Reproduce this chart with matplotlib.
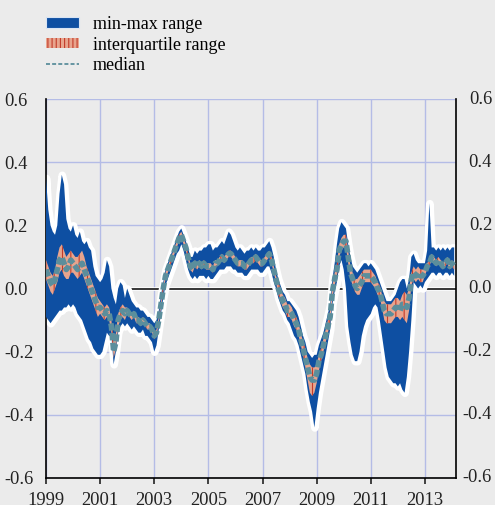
import numpy as np
import matplotlib
matplotlib.use("Agg")
import matplotlib.pyplot as plt
import matplotlib.transforms as mtransforms
from matplotlib.patches import Patch
from matplotlib.lines import Line2D

# ---- data: monthly readings, Jan 1999 .. Feb 2014 ----
start_year = 1999
med = [
    0.06, 0.04, 0.02, 0.01, 0.03, 0.06, 0.09, 0.10, 0.08, 0.06, 0.07, 0.09,        # 1999
    0.08, 0.07, 0.06, 0.07, 0.08, 0.06, 0.04, 0.02, 0.00, -0.02, -0.04, -0.06,     # 2000
    -0.06, -0.07, -0.08, -0.07, -0.08, -0.12, -0.20, -0.17, -0.10, -0.08, -0.07, -0.08,  # 2001
    -0.07, -0.08, -0.09, -0.08, -0.10, -0.10, -0.11, -0.10, -0.11, -0.12, -0.12, -0.13,  # 2002
    -0.15, -0.14, -0.10, -0.05, 0.00, 0.04, 0.06, 0.08, 0.10, 0.12, 0.14, 0.16,    # 2003
    0.17, 0.15, 0.13, 0.10, 0.07, 0.06, 0.08, 0.07, 0.08, 0.07, 0.08, 0.07,        # 2004
    0.07, 0.07, 0.06, 0.08, 0.08, 0.09, 0.10, 0.09, 0.10, 0.11, 0.11, 0.10,        # 2005
    0.09, 0.08, 0.08, 0.08, 0.07, 0.07, 0.08, 0.09, 0.09, 0.10, 0.09, 0.08,        # 2006
    0.08, 0.09, 0.10, 0.11, 0.09, 0.06, 0.03, 0.00, -0.02, -0.04, -0.05, -0.07,    # 2007
    -0.07, -0.08, -0.10, -0.11, -0.13, -0.16, -0.19, -0.22, -0.25, -0.28, -0.29, -0.29,  # 2008
    -0.27, -0.23, -0.21, -0.18, -0.15, -0.12, -0.09, -0.01, 0.03, 0.06, 0.12, 0.14,  # 2009
    0.15, 0.15, 0.10, 0.05, 0.03, 0.01, 0.00, 0.01, 0.02, 0.04, 0.04, 0.04,        # 2010
    0.04, 0.03, 0.02, 0.00, -0.01, -0.04, -0.07, -0.08, -0.08, -0.08, -0.07, -0.06,  # 2011
    -0.06, -0.07, -0.05, -0.05, -0.06, -0.03, 0.03, 0.05, 0.04, 0.05, 0.04, 0.04,  # 2012
    0.05, 0.07, 0.08, 0.10, 0.09, 0.08, 0.09, 0.08, 0.07, 0.08, 0.09, 0.07,        # 2013
    0.08, 0.07,                                                                    # 2014
]
q3 = [
    0.09, 0.07, 0.05, 0.04, 0.06, 0.10, 0.13, 0.14, 0.12, 0.10, 0.11, 0.12,
    0.11, 0.10, 0.10, 0.11, 0.12, 0.10, 0.07, 0.05, 0.03, 0.01, -0.01, -0.03,
    -0.04, -0.05, -0.06, -0.05, -0.06, -0.10, -0.17, -0.14, -0.08, -0.06, -0.05, -0.06,
    -0.06, -0.07, -0.08, -0.07, -0.09, -0.09, -0.10, -0.09, -0.10, -0.11, -0.11, -0.12,
    -0.14, -0.13, -0.09, -0.04, 0.01, 0.05, 0.07, 0.09, 0.11, 0.13, 0.15, 0.17,
    0.18, 0.16, 0.14, 0.11, 0.08, 0.07, 0.09, 0.08, 0.09, 0.08, 0.09, 0.08,
    0.08, 0.08, 0.07, 0.09, 0.09, 0.10, 0.11, 0.10, 0.11, 0.12, 0.12, 0.11,
    0.10, 0.09, 0.09, 0.09, 0.08, 0.08, 0.09, 0.10, 0.10, 0.11, 0.10, 0.09,
    0.09, 0.10, 0.11, 0.12, 0.10, 0.07, 0.04, 0.02, 0.00, -0.02, -0.03, -0.05,
    -0.05, -0.06, -0.08, -0.09, -0.11, -0.14, -0.17, -0.19, -0.22, -0.24, -0.25, -0.25,
    -0.24, -0.21, -0.19, -0.16, -0.13, -0.10, -0.07, 0.01, 0.05, 0.08, 0.14, 0.16,
    0.17, 0.17, 0.12, 0.07, 0.05, 0.03, 0.03, 0.04, 0.05, 0.06, 0.06, 0.06,
    0.06, 0.05, 0.04, 0.02, 0.01, -0.02, -0.04, -0.05, -0.05, -0.05, -0.04, -0.03,
    -0.03, -0.04, -0.02, -0.01, -0.02, 0.00, 0.05, 0.07, 0.06, 0.07, 0.06, 0.06,
    0.06, 0.08, 0.09, 0.11, 0.10, 0.09, 0.10, 0.09, 0.08, 0.09, 0.10, 0.08,
    0.09, 0.08,
]
q1 = [
    0.03, 0.01, -0.01, -0.02, 0.00, 0.02, 0.05, 0.06, 0.04, 0.03, 0.03, 0.05,
    0.05, 0.04, 0.03, 0.04, 0.05, 0.03, 0.01, -0.01, -0.03, -0.05, -0.07, -0.09,
    -0.08, -0.09, -0.10, -0.09, -0.10, -0.14, -0.22, -0.19, -0.12, -0.10, -0.09, -0.10,
    -0.08, -0.09, -0.10, -0.09, -0.11, -0.11, -0.12, -0.11, -0.12, -0.13, -0.13, -0.14,
    -0.16, -0.15, -0.11, -0.06, -0.01, 0.03, 0.05, 0.07, 0.09, 0.11, 0.13, 0.15,
    0.16, 0.14, 0.12, 0.09, 0.06, 0.05, 0.07, 0.06, 0.07, 0.06, 0.07, 0.06,
    0.06, 0.06, 0.05, 0.07, 0.07, 0.08, 0.09, 0.08, 0.09, 0.10, 0.10, 0.09,
    0.08, 0.07, 0.07, 0.07, 0.06, 0.06, 0.07, 0.08, 0.08, 0.09, 0.08, 0.07,
    0.07, 0.08, 0.09, 0.10, 0.08, 0.05, 0.02, -0.02, -0.04, -0.06, -0.07, -0.09,
    -0.09, -0.10, -0.12, -0.13, -0.15, -0.18, -0.21, -0.25, -0.29, -0.33, -0.34, -0.33,
    -0.30, -0.26, -0.23, -0.20, -0.17, -0.14, -0.11, -0.03, 0.01, 0.04, 0.10, 0.12,
    0.13, 0.13, 0.08, 0.03, 0.01, -0.01, -0.02, -0.02, 0.00, 0.02, 0.02, 0.02,
    0.02, 0.01, 0.00, -0.02, -0.03, -0.06, -0.10, -0.11, -0.11, -0.11, -0.10, -0.09,
    -0.09, -0.10, -0.09, -0.10, -0.11, -0.07, 0.01, 0.03, 0.02, 0.03, 0.02, 0.02,
    0.04, 0.06, 0.07, 0.09, 0.08, 0.07, 0.08, 0.07, 0.06, 0.07, 0.08, 0.06,
    0.07, 0.06,
]
hi = [
    0.35, 0.25, 0.20, 0.18, 0.17, 0.20, 0.30, 0.36, 0.33, 0.22, 0.19, 0.18,
    0.20, 0.17, 0.16, 0.18, 0.15, 0.14, 0.15, 0.13, 0.12, 0.07, 0.04, 0.03,
    0.02, 0.03, 0.05, 0.09, 0.07, 0.00, -0.03, -0.05, 0.00, 0.02, 0.01, -0.03,
    0.00, -0.02, -0.04, -0.05, -0.06, -0.06, -0.07, -0.07, -0.08, -0.09, -0.09, -0.10,
    -0.11, -0.10, -0.07, -0.02, 0.02, 0.06, 0.08, 0.10, 0.12, 0.14, 0.16, 0.18,
    0.19, 0.17, 0.15, 0.13, 0.10, 0.10, 0.12, 0.11, 0.12, 0.12, 0.13, 0.13,
    0.14, 0.14, 0.12, 0.13, 0.13, 0.14, 0.15, 0.14, 0.16, 0.18, 0.17, 0.15,
    0.13, 0.12, 0.13, 0.12, 0.11, 0.12, 0.12, 0.13, 0.12, 0.13, 0.12, 0.12,
    0.13, 0.13, 0.14, 0.15, 0.13, 0.10, 0.06, 0.03, 0.01, -0.01, -0.02, -0.04,
    -0.04, -0.05, -0.06, -0.07, -0.09, -0.12, -0.15, -0.17, -0.20, -0.21, -0.22, -0.21,
    -0.21, -0.18, -0.16, -0.14, -0.11, -0.08, -0.05, 0.03, 0.08, 0.14, 0.19, 0.21,
    0.20, 0.19, 0.14, 0.10, 0.07, 0.06, 0.05, 0.06, 0.07, 0.08, 0.08, 0.07,
    0.08, 0.07, 0.06, 0.04, 0.02, 0.00, -0.02, -0.04, -0.04, -0.04, -0.03, -0.02,
    0.00, 0.02, 0.03, 0.03, 0.00, 0.03, 0.10, 0.11, 0.09, 0.08, 0.08, 0.08,
    0.08, 0.12, 0.27, 0.13, 0.13, 0.12, 0.13, 0.12, 0.13, 0.12, 0.13, 0.12,
    0.13, 0.13,
]
lo = [
    -0.09, -0.10, -0.11, -0.10, -0.09, -0.08, -0.07, -0.07, -0.06, -0.06, -0.05, -0.06,
    -0.05, -0.06, -0.08, -0.09, -0.10, -0.12, -0.14, -0.16, -0.17, -0.19, -0.20, -0.21,
    -0.21, -0.20, -0.17, -0.14, -0.15, -0.15, -0.24, -0.20, -0.14, -0.12, -0.11, -0.12,
    -0.11, -0.12, -0.13, -0.12, -0.13, -0.14, -0.14, -0.13, -0.15, -0.15, -0.16, -0.17,
    -0.20, -0.18, -0.13, -0.08, -0.03, 0.01, 0.03, 0.05, 0.07, 0.09, 0.11, 0.12,
    0.14, 0.12, 0.09, 0.06, 0.04, 0.03, 0.04, 0.03, 0.04, 0.04, 0.04, 0.03,
    0.04, 0.03, 0.03, 0.04, 0.05, 0.06, 0.06, 0.06, 0.07, 0.07, 0.07, 0.06,
    0.06, 0.05, 0.05, 0.05, 0.04, 0.04, 0.05, 0.06, 0.06, 0.06, 0.06, 0.05,
    0.05, 0.06, 0.07, 0.07, 0.05, 0.02, 0.00, -0.03, -0.05, -0.07, -0.08, -0.10,
    -0.11, -0.13, -0.15, -0.16, -0.18, -0.21, -0.24, -0.27, -0.32, -0.36, -0.39, -0.44,
    -0.38, -0.33, -0.29, -0.25, -0.21, -0.17, -0.13, -0.05, -0.01, 0.02, 0.07, 0.09,
    0.06, 0.00, -0.12, -0.17, -0.21, -0.23, -0.23, -0.20, -0.15, -0.12, -0.10, -0.09,
    -0.08, -0.06, -0.05, -0.06, -0.10, -0.15, -0.20, -0.25, -0.28, -0.29, -0.30, -0.30,
    -0.31, -0.30, -0.32, -0.33, -0.28, -0.20, -0.10, 0.02, 0.01, 0.00, 0.01, 0.00,
    0.02, 0.03, 0.04, 0.05, 0.05, 0.04, 0.05, 0.05, 0.04, 0.05, 0.05, 0.04,
    0.05, 0.04,
]
year_ticks = [1999, 2001, 2003, 2005, 2007, 2009, 2011, 2013]
y_ticks = [-0.6, -0.4, -0.2, 0.0, 0.2, 0.4, 0.6]
y_tick_labels = ["-0.6", "-0.4", "-0.2", "0.0", "0.2", "0.4", "0.6"]
legend_labels = ["min-max range", "interquartile range", "median"]

# ---- styling ----
BG = "#ebebeb"
BLUE = "#0e4fa2"
SALMON = "#e8a48d"
RED = "#c23b2a"
TEAL = "#5b8e9c"
GRID = "#b4bce6"
TXT = "#222222"
FS = 13.3

plt.rcParams["font.family"] = ["Liberation Serif", "DejaVu Serif"]
plt.rcParams["hatch.linewidth"] = 0.8

x = start_year + np.arange(len(med)) / 12.0

W, H = 495, 505
fig = plt.figure(figsize=(W / 100, H / 100), dpi=100, facecolor=BG)
ax = fig.add_axes([46 / W, 27 / H, 410 / W, 379 / H], facecolor=BG)

ax.set_xlim(1999, 2014.15)
ax.set_ylim(-0.6, 0.6)

ax.set_axisbelow(True)
ax.set_yticks(y_ticks)
ax.set_yticklabels(y_tick_labels)
ax.set_xticks(year_ticks)
ax.set_xticklabels([str(y) for y in year_ticks])
ax.grid(True, color=GRID, lw=1.0, zorder=0)

# zero line
ax.axhline(0, color="white", lw=2.6, zorder=1.5)
ax.axhline(0, color="black", lw=1.1, zorder=1.6)

# min-max band with white halo
ax.fill_between(x, lo, hi, facecolor="white", edgecolor="white", lw=5.5, zorder=2)
ax.fill_between(x, lo, hi, facecolor=BLUE, edgecolor="none", lw=0, zorder=3)
# interquartile
ax.fill_between(x, q1, q3, facecolor=SALMON, edgecolor=RED, hatch="||", lw=0, zorder=4)
# median
ax.plot(x, med, color=TEAL, lw=4.0, dashes=(1.3, 0.45), zorder=5)

# spines / ticks
ax.spines["top"].set_visible(False)
for s in ("left", "right", "bottom"):
    ax.spines[s].set_color("black")
    ax.spines[s].set_linewidth(1.2)
ax.tick_params(axis="y", left=False, right=False, labelleft=True, labelright=False,
               labelsize=FS, pad=26.6, colors=TXT)
ax.tick_params(axis="x", bottom=True, direction="out", length=4.5, width=1.2,
               labelsize=FS, pad=5.5, colors=TXT)
for t in ax.yaxis.get_major_ticks():
    t.label1.set_horizontalalignment("left")

# right-hand axis labels, right-aligned at the figure's right margin
rtrans = mtransforms.blended_transform_factory(fig.transFigure, ax.transData)
for yv, lab in zip(y_ticks, y_tick_labels):
    fig.text(492 / W, yv, lab, transform=rtrans, ha="right", va="center",
             fontsize=FS, color=TXT)

# legend
handles = [
    Patch(facecolor=BLUE, edgecolor="#d8e4f4", lw=0.8),
    Patch(facecolor=SALMON, edgecolor=RED, hatch="||||", lw=0),
    Line2D([], [], color=TEAL, lw=1.3, dashes=(2.2, 1.2)),
]
fig.legend(handles, legend_labels, loc="upper left",
           bbox_to_anchor=(46 / W, 1 - 16 / H), frameon=False,
           fontsize=13, handlelength=1.85, handleheight=0.5, handletextpad=0.75,
           labelspacing=0.2, borderpad=0, borderaxespad=0)

fig.savefig("out.png", dpi=100, facecolor=BG)
